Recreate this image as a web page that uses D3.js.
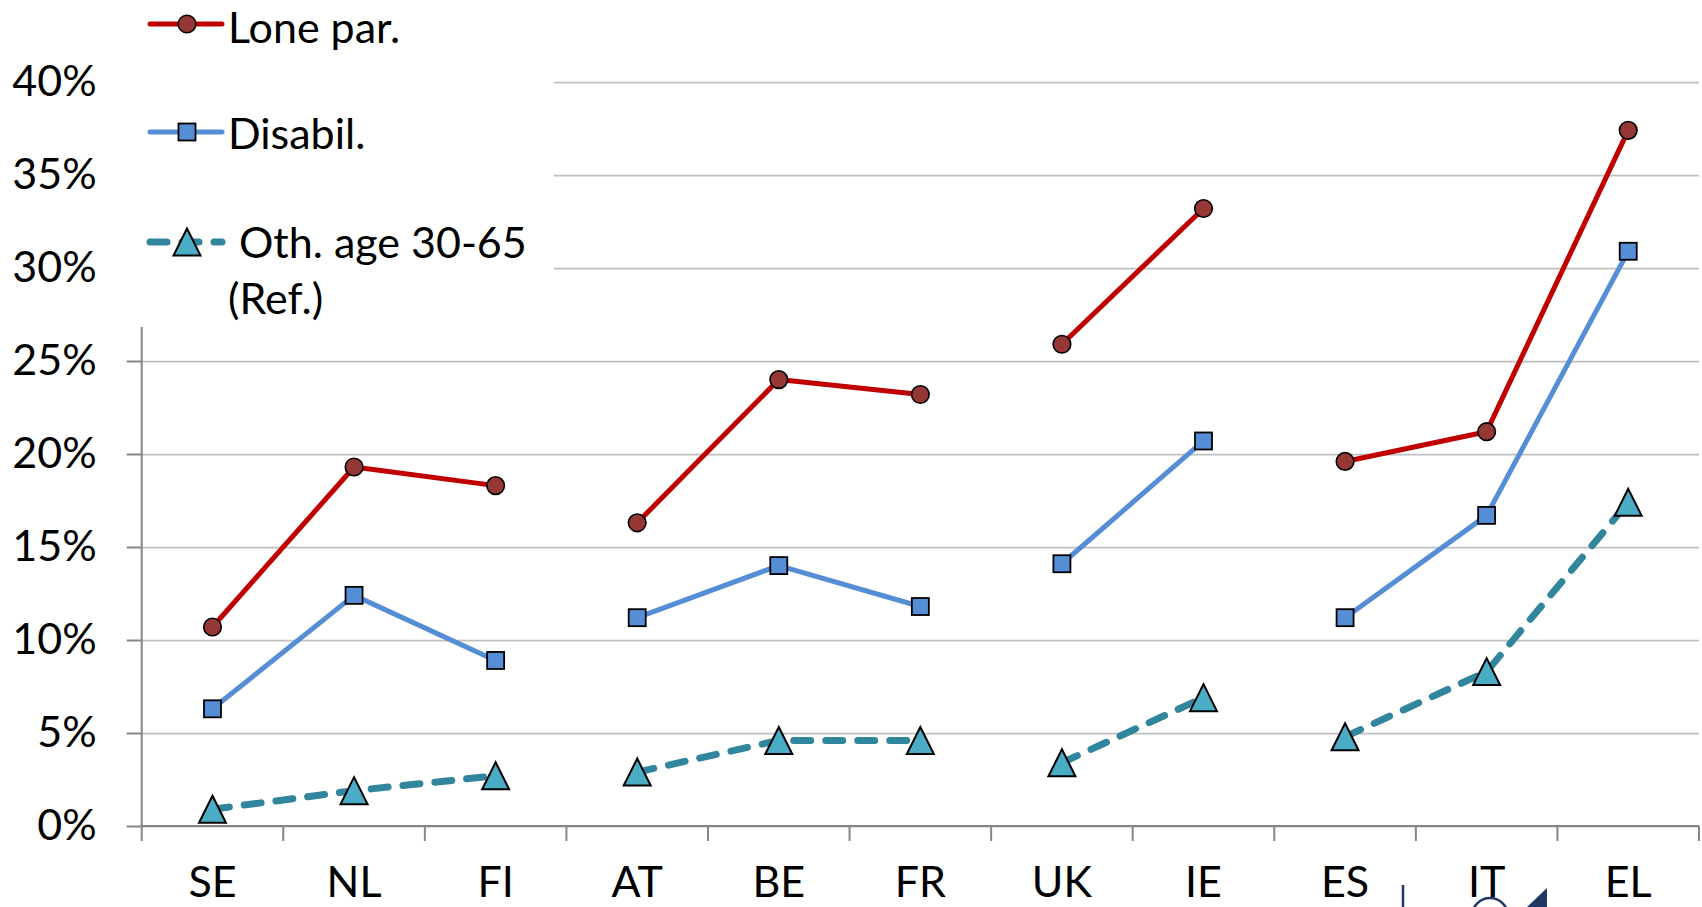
<!DOCTYPE html>
<html>
<head>
<meta charset="utf-8">
<script src="https://cdn.jsdelivr.net/npm/d3@7"></script>
<style>
  html, body { margin: 0; padding: 0; background: #fff; }
  svg { display: block; }
  text { font-family: Lato, "Open Sans", sans-serif; fill: #000; }
</style>
</head>
<body>
<svg id="chart" width="1702" height="907"></svg>
<script>
// Country codes along the x axis, and which comparison group each belongs to
const categories = ["SE", "NL", "FI", "AT", "BE", "FR", "UK", "IE", "ES", "IT", "EL"];
const groups     = [0, 0, 0, 1, 1, 1, 2, 2, 3, 3, 3];

// Poverty rates (%) by household type
const lonePar = [10.7, 19.3, 18.3, 16.3, 24.0, 23.2, 25.9, 33.2, 19.6, 21.2, 37.4];
const disabil = [6.3, 12.4, 8.9, 11.2, 14.0, 11.8, 14.1, 20.7, 11.2, 16.7, 30.9];
const othAge  = [0.9, 1.9, 2.7, 2.9, 4.6, 4.6, 3.4, 6.9, 4.8, 8.3, 17.4];

const yTicks = [0, 5, 10, 15, 20, 25, 30, 35, 40];
const seriesNames = ["Lone par.", "Disabil.", "Oth. age 30-65", "(Ref.)"];

const svg = d3.select("#chart");
const FS = 43;

const plot = { left: 141.7, right: 1699, top: 82, bottom: 826 };
const x = d3.scaleBand().domain(categories).range([plot.left, plot.right]).padding(0);
const y = d3.scaleLinear().domain([0, 40]).range([plot.bottom, plot.top]);

// Horizontal gridlines
svg.append("g")
  .attr("transform", `translate(${plot.left},0)`)
  .call(d3.axisLeft(y).tickValues(yTicks).tickSize(-(plot.right - plot.left)).tickFormat(""))
  .call(g => g.select(".domain").remove())
  .call(g => g.selectAll(".tick line").attr("stroke", "#bfbfbf").attr("stroke-width", 1.75));

// Y axis with percent labels
svg.append("g")
  .attr("transform", `translate(${plot.left},0)`)
  .call(d3.axisLeft(y).tickValues(yTicks).tickSize(15).tickPadding(30).tickFormat(d => d + "%"))
  .call(g => g.select(".domain").attr("stroke", "#868686").attr("stroke-width", 2)
                .attr("d", `M0,${plot.top}V${plot.bottom}`))
  .call(g => g.selectAll(".tick line").attr("stroke", "#868686").attr("stroke-width", 2))
  .call(g => g.selectAll(".tick text").style("font-size", FS + "px")
                .style("font-family", "Lato, 'Open Sans', sans-serif").attr("fill", "#000"));

// X axis: baseline, boundary ticks between categories, centred labels
const xAxis = svg.append("g");
xAxis.append("line")
  .attr("x1", plot.left).attr("x2", plot.right)
  .attr("y1", y(0)).attr("y2", y(0))
  .attr("stroke", "#868686").attr("stroke-width", 2);
const bounds = categories.map(c => x(c)).concat([x.range()[1]]);
xAxis.selectAll("line.bt").data(bounds).join("line")
  .attr("class", "bt")
  .attr("x1", d => d).attr("x2", d => d)
  .attr("y1", y(0)).attr("y2", y(0) + 15)
  .attr("stroke", "#868686").attr("stroke-width", 2);
xAxis.selectAll("text").data(categories).join("text")
  .attr("x", d => x(d) + x.bandwidth() / 2)
  .attr("y", 897)
  .attr("text-anchor", "middle")
  .style("font-size", FS + "px")
  .text(d => d);

// Series definitions
const series = [
  { values: lonePar, stroke: "#c00000", width: 5, dash: null, fill: "#953735", marker: "circle" },
  { values: disabil, stroke: "#558ed5", width: 5, dash: null, fill: "#558ed5", marker: "square" },
  { values: othAge,  stroke: "#31859c", width: 7, dash: "17 15", fill: "#4bacc6", marker: "triangle" }
];

function drawMarker(sel, type, fill) {
  if (type === "circle") {
    sel.append("circle").attr("r", 8.8).attr("fill", fill).attr("stroke", "#000").attr("stroke-width", 1.6);
  } else if (type === "square") {
    sel.append("rect").attr("x", -8.5).attr("y", -8.5).attr("width", 17).attr("height", 17)
      .attr("fill", fill).attr("stroke", "#000").attr("stroke-width", 1.8);
  } else {
    sel.append("path").attr("d", "M0,-13.5L13.5,13.5L-13.5,13.5Z")
      .attr("fill", fill).attr("stroke", "#000").attr("stroke-width", 2).attr("stroke-linejoin", "miter");
  }
}

const cx = i => x(categories[i]) + x.bandwidth() / 2;
const groupIds = Array.from(new Set(groups));

series.forEach(s => {
  const line = d3.line().x(d => cx(d.i)).y(d => y(d.v));
  const g = svg.append("g");
  groupIds.forEach(gid => {
    const pts = s.values.map((v, i) => ({ i, v })).filter(d => groups[d.i] === gid);
    g.append("path")
      .attr("d", line(pts))
      .attr("fill", "none")
      .attr("stroke", s.stroke)
      .attr("stroke-width", s.width)
      .attr("stroke-linecap", s.dash ? "round" : "butt")
      .attr("stroke-linejoin", "round")
      .attr("stroke-dasharray", s.dash);
  });
  s.values.forEach((v, i) => {
    const m = g.append("g").attr("transform", `translate(${cx(i)},${y(v)})`);
    drawMarker(m, s.marker, s.fill);
  });
});

// Legend panel (opaque, sits over the upper-left of the plot)
const legend = svg.append("g");
legend.append("rect").attr("x", 110).attr("y", 0).attr("width", 444).attr("height", 327).attr("fill", "#fff");

const legendRows = [
  { s: series[0], cy: 24, lines: [{ t: seriesNames[0], x: 228, y: 43 }] },
  { s: series[1], cy: 132, lines: [{ t: seriesNames[1], x: 228, y: 149 }] },
  { s: series[2], cy: 242, lines: [{ t: seriesNames[2], x: 239, y: 258 }, { t: seriesNames[3], x: 228, y: 314 }] }
];
legendRows.forEach(r => {
  legend.append("line")
    .attr("x1", 150).attr("x2", 222).attr("y1", r.cy).attr("y2", r.cy)
    .attr("stroke", r.s.stroke).attr("stroke-width", r.s.width)
    .attr("stroke-linecap", "round")
    .attr("stroke-dasharray", r.s.dash);
  const m = legend.append("g").attr("transform", `translate(187,${r.cy})`);
  drawMarker(m, r.s.marker, r.s.fill);
  r.lines.forEach(l => {
    legend.append("text").attr("x", l.x).attr("y", l.y).style("font-size", FS + "px").text(l.t);
  });
});

// Partial emblem along the lower edge
const emblem = svg.append("g").attr("stroke", "#1f3864").attr("fill", "none");
emblem.append("line").attr("x1", 1403).attr("x2", 1403).attr("y1", 885).attr("y2", 907).attr("stroke-width", 2.5);
emblem.append("circle").attr("cx", 1490).attr("cy", 916).attr("r", 18).attr("stroke-width", 2.5);
emblem.append("path").attr("d", "M1527,907L1547,888L1547,907Z").attr("fill", "#1f3864").attr("stroke", "none");
</script>
</body>
</html>
